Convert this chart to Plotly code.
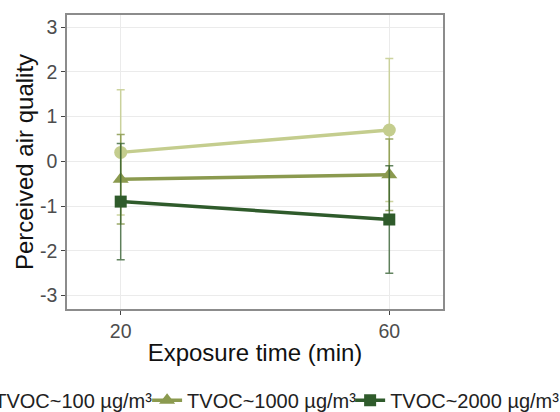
import plotly.graph_objects as go

times = [20, 60]
series_names = ["TVOC~100 µg/m³", "TVOC~1000 µg/m³", "TVOC~2000 µg/m³"]
pq_100 = [0.2, 0.7]
err_100 = [1.4, 1.6]
pq_1000 = [-0.4, -0.3]
err_1000 = [1.0, 0.8]
pq_2000 = [-0.9, -1.3]
err_2000 = [1.3, 1.2]
y_ticks = [-3, -2, -1, 0, 1, 2, 3]
y_tick_labels = ["-3", "-2", "-1", "0", "1", "2", "3"]
x_ticks = [20, 60]

colors = ["#c4cd8e", "#8b9a4f", "#2f5b2b"]
err_colors = ["rgba(196,205,142,0.85)", "rgba(139,154,79,0.85)", "rgba(47,91,43,0.75)"]
symbols = ["circle", "triangle-up", "square"]
sizes = [13, 14, 12]
values = [pq_100, pq_1000, pq_2000]
errors = [err_100, err_1000, err_2000]
legend_ids = ["legend", "legend2", "legend3"]

fig = go.Figure()
for i in range(3):
    fig.add_trace(go.Scatter(
        x=times, y=values[i], name=series_names[i], mode="lines+markers",
        line=dict(color=colors[i], width=3.5),
        marker=dict(symbol=symbols[i], size=sizes[i], color=colors[i]),
        error_y=dict(type="data", array=errors[i], visible=True,
                     color=err_colors[i], thickness=1.5, width=4),
        legend=legend_ids[i],
    ))

font = "Liberation Sans, Arial, sans-serif"
leg_common = dict(orientation="h", yanchor="middle", y=-0.31, xanchor="left",
                  font=dict(family=font, size=20, color="#222222"),
                  bgcolor="rgba(0,0,0,0)", itemwidth=30)
fig.update_layout(
    width=560, height=412,
    margin=dict(l=67, r=117, t=15, b=103, autoexpand=False),
    paper_bgcolor="white", plot_bgcolor="white",
    showlegend=True,
    legend=dict(x=-0.30, **leg_common),
    legend2=dict(x=0.213, **leg_common),
    legend3=dict(x=0.753, **leg_common),
    xaxis=dict(range=[12, 68], tickvals=x_ticks, ticks="outside", ticklen=4,
               tickcolor="#444444", tickfont=dict(family=font, size=19.5, color="#4d4d4d"),
               showgrid=True, gridcolor="#ebebeb", gridwidth=1,
               showline=True, linecolor="#8c8c8c", linewidth=1.5, mirror=True,
               zeroline=False,
               title=dict(text="Exposure time (min)", font=dict(family=font, size=24, color="#111111"), standoff=3)),
    yaxis=dict(range=[-3.3, 3.27], tickvals=y_ticks, ticktext=y_tick_labels,
               ticks="outside", ticklen=4,
               tickcolor="#444444", tickfont=dict(family=font, size=19.5, color="#4d4d4d"),
               showgrid=True, gridcolor="#ebebeb", gridwidth=1,
               showline=True, linecolor="#8c8c8c", linewidth=1.5, mirror=True,
               zeroline=False,
               title=dict(text="Perceived air quality", font=dict(family=font, size=24, color="#111111"), standoff=0)),
)
fig.write_html("out.html", config={"displayModeBar": False},
               post_script="document.body.style.margin='0';")
